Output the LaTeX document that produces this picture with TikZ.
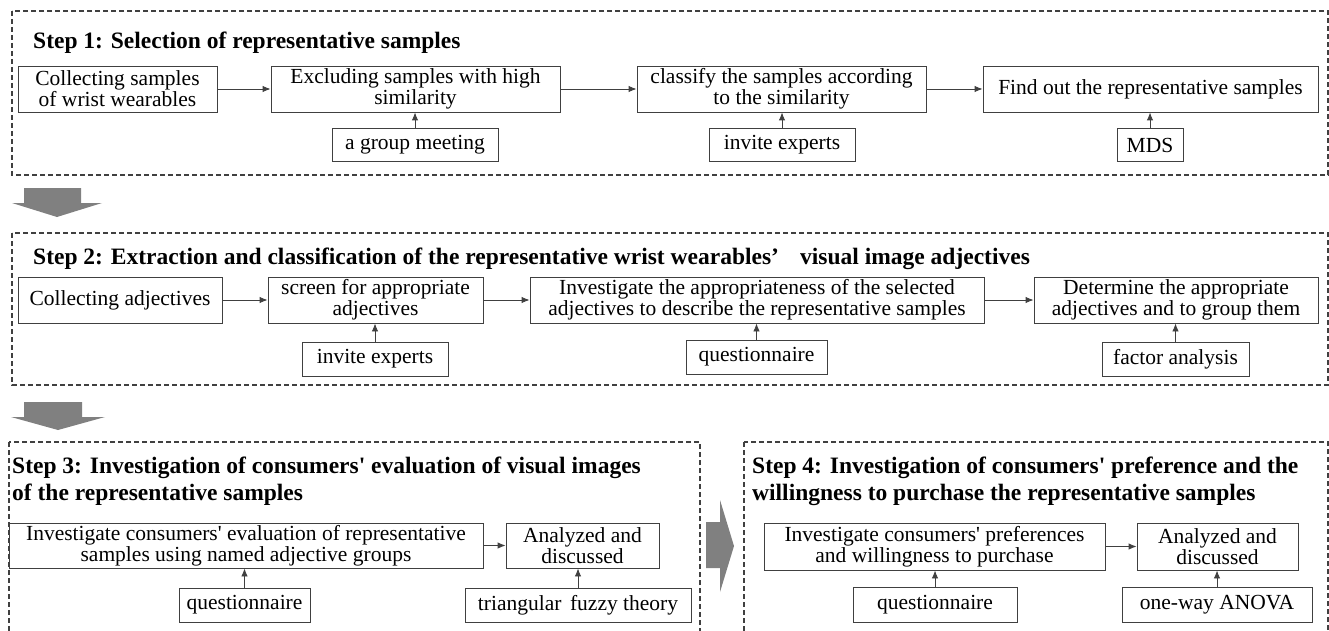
\documentclass[tikz,border=0pt]{standalone}
\usepackage{fontspec}
\setmainfont{Liberation Serif}
\usetikzlibrary{arrows.meta}
\definecolor{linecol}{HTML}{404040}
\definecolor{arrowcol}{HTML}{808080}
\newcommand{\boxfont}{\fontsize{21.5}{21}\selectfont}
\newcommand{\stepfont}{\fontsize{23.5}{27}\selectfont\bfseries}

\begin{document}
\begin{tikzpicture}[x=1pt,y=-1pt,
	stepframe/.style={draw=linecol,line width=1.1pt,dash pattern=on 5pt off 3pt},
	steptitle/.style={anchor=north west,inner sep=0pt,align=left,font=\stepfont},
	procbox/.style={draw=linecol,line width=0.9pt,align=center,font=\boxfont,inner sep=1pt,minimum height=46pt},
	toolbox/.style={procbox,minimum height=34pt},
	flow/.style={draw=linecol,line width=0.9pt,-{Latex[length=8pt,width=6.5pt]}},
	bigarrow/.style={fill=arrowcol,draw=none}]
\useasboundingbox (0,0) rectangle (1329,631);
\clip (0,0) rectangle (1329,631);

% step 1
\draw[stepframe] (12,11) rectangle (1328,175);
\node[steptitle] (title1) at (33,32) {Step 1: Selection of representative samples};
\node[procbox,minimum width=199pt] (s1a) at (117.5,89) {Collecting samples\\of wrist wearables};
\node[procbox,minimum width=289pt] (s1b) at (415.5,89) {Excluding samples with high\\similarity};
\node[procbox,minimum width=289pt] (s1c) at (781.5,89) {classify the samples according\\to the similarity};
\node[procbox,minimum width=335pt] (s1d) at (1150.5,89) {Find out the representative samples};
\node[toolbox,minimum width=166pt,minimum height=33pt] (t1b) at (415,145) {a group meeting};
\node[toolbox,minimum width=146pt,minimum height=33pt] (t1c) at (782,145) {invite experts};
\node[toolbox,minimum width=66pt,minimum height=33pt] (t1d) at (1150,145) {MDS};

\fill[bigarrow] (24,188) -- (81,188) -- (81,203) -- (102,203) -- (57,217) -- (12,203) -- (24,203) -- cycle;

% step 2
\draw[stepframe] (12,233) rectangle (1328,385);
\node[steptitle] (title2) at (33,248) {Step 2: Extraction and classification of the representative wrist wearables\textquoteright\hspace{0.9em}visual image adjectives};
\node[procbox,minimum width=204pt] (s2a) at (120,300) {Collecting adjectives};
\node[procbox,minimum width=215pt] (s2b) at (375.5,300) {screen for appropriate\\adjectives};
\node[procbox,minimum width=454pt] (s2c) at (757,300) {Investigate the appropriateness of the selected\\adjectives to describe the representative samples};
\node[procbox,minimum width=284pt] (s2d) at (1176,300) {Determine the appropriate\\adjectives and to group them};
\node[toolbox,minimum width=146pt] (t2b) at (375,359) {invite experts};
\node[toolbox,minimum width=141pt] (t2c) at (756.5,357) {questionnaire};
\node[toolbox,minimum width=147pt] (t2d) at (1175.5,359) {factor analysis};

\fill[bigarrow] (24,402) -- (82,402) -- (82,417) -- (105,417) -- (58,430) -- (11,417) -- (24,417) -- cycle;

% step 3
\draw[stepframe] (9,442) rectangle (700,680);
\node[steptitle] (title3) at (12,457) {Step 3: Investigation of consumers\textquotesingle{} evaluation of visual images\\of the representative samples};
\node[procbox,minimum width=474pt,minimum height=45pt] (s3a) at (246,545.5) {Investigate consumers\textquotesingle{} evaluation of representative\\samples using named adjective groups};
\node[procbox,minimum width=153pt,minimum height=45pt] (s3b) at (582.5,545.5) {Analyzed and\\discussed};
\node[toolbox,minimum width=131pt] (t3a) at (244.5,605) {questionnaire};
\node[toolbox,minimum width=226pt] (t3b) at (578,605) {triangular\hspace{0.4em}fuzzy theory};

\fill[bigarrow] (706,522) -- (720,522) -- (720,500) -- (734,546) -- (720,592) -- (720,568) -- (706,568) -- cycle;

% step 4
\draw[stepframe] (744,442) rectangle (1328,680);
\node[steptitle] (title4) at (752,457) {Step 4: Investigation of consumers\textquotesingle{} preference and the\\willingness to purchase the representative samples};
\node[procbox,minimum width=341pt,minimum height=47pt] (s4a) at (934.5,546.5) {Investigate consumers\textquotesingle{} preferences\\and willingness to purchase};
\node[procbox,minimum width=161pt,minimum height=47pt] (s4b) at (1217.5,546.5) {Analyzed and\\discussed};
\node[toolbox,minimum width=164pt,minimum height=35pt] (t4a) at (935,604.5) {questionnaire};
\node[toolbox,minimum width=190pt,minimum height=35pt] (t4b) at (1217,604.5) {one-way ANOVA};

% connectors
\foreach \a/\b in {s1a/s1b,s1b/s1c,s1c/s1d,s2a/s2b,s2b/s2c,s2c/s2d,s3a/s3b,s4a/s4b}
	\draw[flow] (\a) -- (\b);
\foreach \t/\s in {t1b/s1b,t1c/s1c,t1d/s1d,t2b/s2b,t2c/s2c,t2d/s2d,t3a/s3a,t3b/s3b,t4a/s4a,t4b/s4b}
	\draw[flow] (\t.north) -- (\t.north |- \s.south);
\end{tikzpicture}
\end{document}
